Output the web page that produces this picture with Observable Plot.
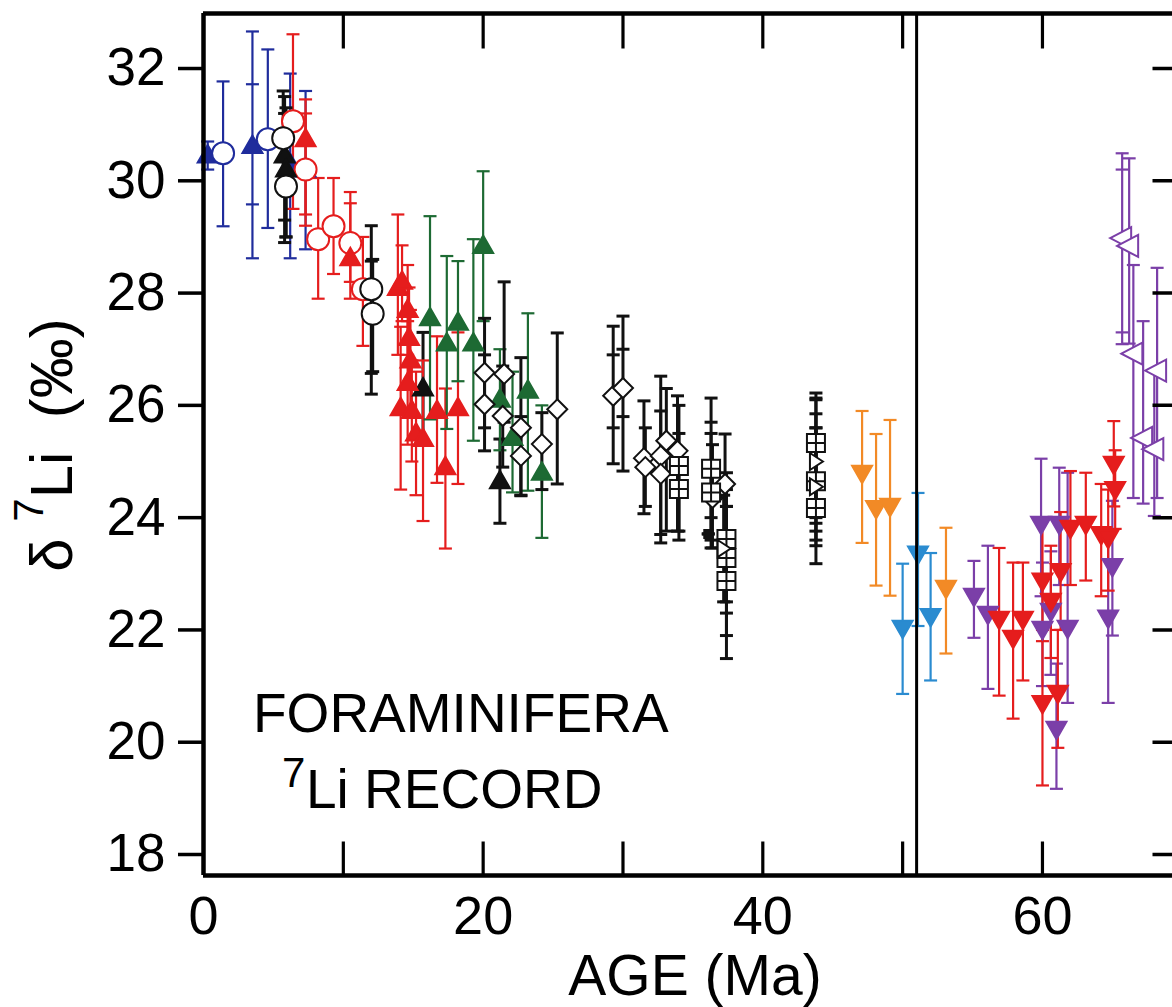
<!DOCTYPE html>
<html><head><meta charset="utf-8">
<script src="https://cdn.jsdelivr.net/npm/d3@7"></script>
<script src="https://cdn.jsdelivr.net/npm/@observablehq/plot@0.6"></script>
<style>
html,body{margin:0;padding:0;background:#fff;overflow:hidden}
#chart{width:1172px;height:1007px}
</style></head><body><div id="chart"></div>
<script>
// ---------- axis data ----------
const xDomain = [0, 69.3];
const yDomain = [17.626, 32.98];
const xTickLabels = [0, 20, 40, 60];
const xTickMarks = [10, 20, 30, 40, 50, 60];
const yTicks = [18, 20, 22, 24, 26, 28, 30, 32];
const boundaryAge = [51.0];

// ---------- series: [age (Ma), d7Li, low, high, innerLow?, innerHigh?] ----------
const navyTriangles = [
  [0.3, 30.45, 30.2, 30.7],
  [3.5, 30.62, 28.62, 32.66, 29.58, 31.72],
  [6.2, 30.3, 28.62, 31.91],
  [7.3, 30.2, 28.78, 31.6]
];
const navyCircles = [
  [1.4, 30.49, 29.19, 31.77],
  [4.6, 30.74, 29.16, 32.34]
];
const blackTriangles = [
  [5.8, 30.45, 28.9, 31.5, 29.3, 31.2],
  [5.9, 30.2, 29.0, 31.3],
  [15.7, 26.3, 25.3, 27.3],
  [21.2, 24.65, 23.9, 25.4]
];
const blackCircles = [
  [5.7, 30.76, 29.9, 31.6],
  [5.9, 29.9, 29.0, 30.8],
  [12.0, 28.07, 26.2, 29.2, 26.57, 28.57],
  [12.1, 27.63, 26.6, 28.6]
];
const redCircles = [
  [6.4, 31.06, 29.5, 32.61],
  [7.3, 30.2, 29.2, 31.2],
  [8.2, 28.96, 27.9, 30.05],
  [9.3, 29.19, 28.34, 30.05],
  [10.5, 28.89, 28.2, 29.6],
  [11.4, 28.07, 27.06, 29.0]
];
const redTriangles = [
  [7.3, 30.74, 29.4, 31.45],
  [10.5, 28.62, 27.9, 29.8],
  [13.9, 28.09, 26.9, 29.4],
  [14.2, 28.2, 27.5, 28.85],
  [14.1, 25.95, 24.5, 27.4],
  [14.6, 27.7, 26.9, 28.5],
  [14.7, 27.2, 26.3, 28.1],
  [14.8, 26.8, 25.8, 27.7],
  [14.6, 26.4, 25.3, 27.5],
  [14.9, 25.9, 25.0, 26.8],
  [15.2, 25.5, 24.4, 26.6],
  [15.7, 25.4, 23.94, 26.8],
  [16.7, 25.9, 24.62, 27.23],
  [17.3, 24.9, 23.45, 26.3],
  [18.2, 25.95, 24.6, 27.3]
];
const greenTriangles = [
  [16.2, 27.55, 25.75, 29.37],
  [17.4, 27.1, 25.58, 28.66],
  [18.2, 27.47, 26.43, 28.57],
  [19.3, 27.1, 25.37, 28.96],
  [20.0, 28.84, 27.5, 30.17],
  [21.2, 26.1, 25.2, 27.0],
  [22.1, 25.42, 24.45, 26.6],
  [23.2, 26.26, 24.48, 27.64],
  [24.2, 24.8, 23.64, 26.0]
];
const openDiamonds = [
  [20.1, 26.58, 25.6, 27.55],
  [20.1, 26.02, 25.19, 26.9],
  [21.5, 26.56, 25.7, 28.2],
  [21.4, 25.81, 24.9, 26.7],
  [22.7, 25.6, 24.39, 26.85],
  [22.7, 25.1, 24.4, 25.8],
  [24.2, 25.31, 24.5, 25.87],
  [25.3, 25.93, 24.6, 27.29],
  [29.3, 26.17, 24.96, 27.41, 25.6, 26.9],
  [30.0, 26.31, 24.83, 27.59, 25.8, 27.0],
  [31.5, 25.06, 24.07, 26.08],
  [31.6, 24.9, 24.2, 25.6],
  [32.7, 25.1, 23.55, 26.52],
  [32.7, 24.78, 23.7, 25.9],
  [33.1, 25.37, 23.76, 26.3],
  [33.9, 25.19, 23.76, 26.17],
  [36.4, 24.35, 23.46, 25.3],
  [37.3, 24.6, 23.6, 25.49]
];
const crossedSquares = [
  [34.0, 24.92, 23.76, 26.0],
  [34.0, 24.51, 23.6, 25.5],
  [36.3, 24.87, 23.46, 26.13, 24.0, 25.7],
  [36.3, 24.45, 23.6, 25.5],
  [37.4, 23.62, 22.5, 24.8],
  [37.4, 23.28, 21.9, 24.5, 22.3, 24.2],
  [37.4, 22.87, 21.49, 24.2],
  [43.8, 25.33, 24.3, 26.22, 23.76, 26.13],
  [43.8, 24.65, 23.5, 25.85],
  [43.8, 24.17, 23.18, 25.6, 23.9, 25.2]
];
const openRightTriangles = [
  [43.8, 25.0, 24.0, 26.1],
  [43.8, 24.55, 23.6, 25.6],
  [37.2, 23.45, 22.5, 24.4]
];
const blackSquares = [
  [36.1, 23.71, 23.71, 23.71]
];
const orangeDown = [
  [47.1, 24.8, 23.55, 25.9],
  [48.1, 24.17, 22.79, 25.49],
  [49.1, 24.21, 22.61, 25.74],
  [53.1, 22.75, 21.58, 23.82]
];
const lightBlueDown = [
  [50.0, 22.04, 20.86, 23.18],
  [51.1, 23.36, 22.07, 24.44],
  [52.0, 22.25, 21.1, 23.37]
];
const purpleDown = [
  [55.1, 22.61, 21.86, 23.23],
  [56.1, 22.29, 20.95, 23.5],
  [59.9, 23.89, 22.6, 25.05],
  [61.2, 23.89, 22.8, 24.89],
  [61.8, 22.04, 20.7, 24.8],
  [60.6, 22.34, 21.2, 23.4],
  [60.0, 22.02, 21.0, 23.2],
  [61.0, 20.24, 19.17, 21.4],
  [65.0, 23.14, 21.9, 24.3],
  [64.7, 22.22, 20.7, 23.7]
];
const redDown = [
  [56.9, 22.2, 20.83, 23.46],
  [57.9, 21.86, 20.42, 23.2],
  [58.6, 22.2, 21.1, 23.2],
  [60.0, 22.88, 21.8, 24.0],
  [60.0, 20.7, 19.23, 22.0],
  [61.1, 20.88, 19.9, 22.0],
  [61.3, 23.05, 22.0, 24.1],
  [60.6, 22.52, 21.5, 23.5],
  [62.0, 23.82, 22.8, 24.83],
  [63.1, 23.89, 22.88, 24.8],
  [64.2, 23.71, 22.6, 24.6],
  [64.7, 23.64, 22.7, 24.5],
  [65.1, 24.96, 24.2, 25.72],
  [65.2, 24.51, 23.8, 25.2]
];
const purpleLeftOpen = [
  [65.7, 28.98, 27.09, 30.49, 27.3, 30.2],
  [66.2, 28.84, 27.1, 30.4],
  [66.5, 26.92, 24.35, 28.5],
  [68.2, 26.62, 24.35, 28.45],
  [67.2, 25.42, 24.25, 27.5],
  [68.0, 25.22, 24.03, 26.6]
];

// ---------- symbols ----------
const poly = pts => ({draw(ctx) {
  ctx.moveTo(pts[0][0], pts[0][1]);
  for (const p of pts.slice(1)) ctx.lineTo(p[0], p[1]);
  ctx.closePath();
}});
const triUp = poly([[0, -10.5], [10, 7], [-10, 7]]);
const triDown = poly([[0, 10.5], [10, -7], [-10, -7]]);
const triLeft = poly([[-12, 0], [9, -11], [9, 11]]);
const triRight = poly([[7, 0], [-6, -8.5], [-6, 8.5]]);
const diamond = poly([[0, -10], [10, 0], [0, 10], [-10, 0]]);
const smallSquare = poly([[-4, -4], [4, -4], [4, 4], [-4, 4]]);
const squarePlus = {draw(ctx) {
  ctx.moveTo(-9, -9); ctx.lineTo(9, -9); ctx.lineTo(9, 9); ctx.lineTo(-9, 9); ctx.closePath();
  ctx.moveTo(0, -9); ctx.lineTo(0, 9); ctx.moveTo(-9, 0); ctx.lineTo(9, 0);
}};
const ring = {draw(ctx) { ctx.moveTo(11, 0); ctx.arc(0, 0, 11, 0, 2 * Math.PI); }};
const cap = {draw(ctx) { ctx.moveTo(-6.5, 0); ctx.lineTo(6.5, 0); }};
const tickUp = {draw(ctx) { ctx.moveTo(0, 0); ctx.lineTo(0, -34); }};
const tickDown = {draw(ctx) { ctx.moveTo(0, 0); ctx.lineTo(0, 35); }};
const tickIn = {draw(ctx) { ctx.moveTo(-20, 0); ctx.lineTo(14, 0); }};

const NAVY = "#1f2c9c", BLACK = "#111", RED = "#e51d1d", GREEN = "#1d6a33",
      ORANGE = "#f28a26", LBLUE = "#2a8bd0", PURPLE = "#7b3fa8";

const series = [
  {data: navyTriangles, color: NAVY, symbol: triUp, fill: NAVY, bw: 2.2},
  {data: navyCircles, color: NAVY, symbol: ring, fill: "white", bw: 2.2},
  {data: redCircles, color: RED, symbol: ring, fill: "white", bw: 2.2},
  {data: blackTriangles, color: BLACK, symbol: triUp, fill: BLACK, bw: 3},
  {data: blackCircles, color: BLACK, symbol: ring, fill: "white", bw: 3},
  {data: redTriangles, color: RED, symbol: triUp, fill: RED, bw: 2.2},
  {data: greenTriangles, color: GREEN, symbol: triUp, fill: GREEN, bw: 2.2},
  {data: openDiamonds, color: BLACK, symbol: diamond, fill: "white", bw: 3},
  {data: crossedSquares, color: BLACK, symbol: squarePlus, fill: "white", bw: 3},
  {data: openRightTriangles, color: BLACK, symbol: triRight, fill: "white", bw: 3},
  {data: blackSquares, color: BLACK, symbol: smallSquare, fill: BLACK, bw: 3},
  {data: orangeDown, color: ORANGE, symbol: triDown, fill: ORANGE, bw: 2.2},
  {data: lightBlueDown, color: LBLUE, symbol: triDown, fill: LBLUE, bw: 2.2},
  {data: purpleDown, color: PURPLE, symbol: triDown, fill: PURPLE, bw: 2.2},
  {data: redDown, color: RED, symbol: triDown, fill: RED, bw: 2.2},
  {data: purpleLeftOpen, color: PURPLE, symbol: triLeft, fill: "white", bw: 2.2}
];

const marks = [];
for (const s of series) {
  marks.push(Plot.ruleX(s.data, {x: d => d[0], y1: d => d[2], y2: d => d[3], stroke: s.color, strokeWidth: s.bw}));
  const caps = s.data.flatMap(d => {
    const c = [[d[0], d[2]], [d[0], d[3]]];
    if (d.length > 4) c.push([d[0], d[4]], [d[0], d[5]]);
    return c;
  });
  marks.push(Plot.dot(caps, {x: d => d[0], y: d => d[1], symbol: cap, r: 5, fill: "none", stroke: s.color, strokeWidth: s.bw}));
}
for (const s of series) {
  marks.push(Plot.dot(s.data, {x: d => d[0], y: d => d[1], symbol: s.symbol, r: 5, fill: s.fill, stroke: s.color, strokeWidth: 2}));
}

const chart = Plot.plot({
  width: 1172, height: 1007,
  marginLeft: 203, marginRight: 0, marginTop: 13, marginBottom: 132,
  style: {fontFamily: "'Liberation Sans', Arial, Helvetica, sans-serif", fontSize: "53px", color: "#000", background: "#fff", overflow: "hidden"},
  x: {domain: xDomain, axis: null},
  y: {domain: yDomain, axis: null},
  marks: [
    ...marks,
    Plot.ruleX(boundaryAge, {stroke: "#000", strokeWidth: 3}),
    Plot.dot(xTickMarks, {x: d => d, y: () => yDomain[0], symbol: tickUp, r: 5, stroke: "#000", strokeWidth: 3.2}),
    Plot.dot(xTickMarks, {x: d => d, y: () => yDomain[1], symbol: tickDown, r: 5, stroke: "#000", strokeWidth: 3.2}),
    Plot.dot(yTicks, {x: () => xDomain[1], y: d => d, symbol: tickIn, r: 5, stroke: "#000", strokeWidth: 3.5}),
    Plot.ruleX([xDomain[0]], {stroke: "#000", strokeWidth: 4.5}),
    Plot.ruleY([yDomain[0]], {stroke: "#000", strokeWidth: 4.5}),
    Plot.ruleY([yDomain[1]], {stroke: "#000", strokeWidth: 4.5}),
    Plot.axisY(yTicks, {tickSize: 25, tickPadding: 13, strokeWidth: 3.5, fontSize: 53, label: null, tickFormat: d => String(d)}),
    Plot.axisX(xTickLabels, {tickSize: 0, tickPadding: 20, fontSize: 54, label: null, tickFormat: d => String(d)})
  ]
});
document.getElementById("chart").appendChild(chart);

const svg = d3.select(chart);
const font = "'Liberation Sans', Arial, Helvetica, sans-serif";
// x-axis title
svg.append("text").attr("x", 695).attr("y", 995).attr("text-anchor", "middle")
  .style("font-family", font).style("font-size", "57px").attr("fill", "#000").text("AGE (Ma)");
// y-axis title
const yl = svg.append("text").attr("transform", "translate(72,445) rotate(-90)")
  .attr("text-anchor", "middle").style("font-family", font).style("font-size", "60px").attr("fill", "#000");
yl.append("tspan").text("δ ");
yl.append("tspan").attr("dy", -29).style("font-size", "42px").text("7");
yl.append("tspan").attr("dy", 29).text("Li  (‰)");
// annotation
svg.append("text").attr("x", 253).attr("y", 732).attr("text-anchor", "start")
  .style("font-family", font).style("font-size", "55px").attr("fill", "#000").text("FORAMINIFERA");
const an = svg.append("text").attr("text-anchor", "start").style("font-family", font).style("font-size", "55px").attr("fill", "#000");
an.append("tspan").attr("x", 282).attr("y", 787).style("font-size", "42px").text("7");
an.append("tspan").attr("x", 306).attr("y", 808).text("Li RECORD");
</script>
</body></html>
